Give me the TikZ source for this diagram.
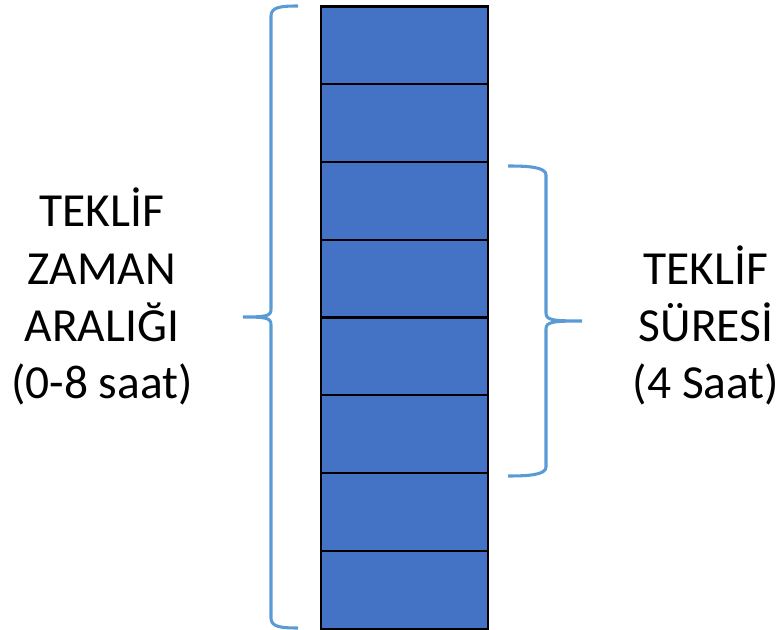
\documentclass[tikz,border=0pt]{standalone}
\usepackage{fontspec}
\setmainfont{Carlito}
\definecolor{boxblue}{HTML}{4472C4}
\definecolor{braceblue}{HTML}{5B9BD5}
\begin{document}
\begin{tikzpicture}[x=0.75pt,y=-0.75pt,
  slot/.style={draw=black,line width=1.6pt,fill=boxblue,minimum width=166.5*0.75pt,minimum height=77.75*0.75pt,inner sep=0pt,anchor=north west},
  bracepath/.style={draw=braceblue,line width=2.3pt},
  label/.style={align=center,font=\fontsize{35.6pt}{43pt}\selectfont,inner sep=0pt}]
\useasboundingbox (0,0) rectangle (782,630);
\foreach \i in {0,...,7}{
  \node[slot] (b\i) at (320,{5.5+77.75*\i}) {};
}
% left brace
\draw[bracepath] (298,6) .. controls (281,6) and (271,7) .. (271,16) -- (271,309)
  .. controls (271,316) and (267,317) .. (243,317)
  .. controls (267,317) and (271,318) .. (271,325) -- (271,618)
  .. controls (271,627) and (281,628) .. (298,628);
% right brace
\draw[bracepath] (508,166) .. controls (528,166) and (546,167) .. (546,175) -- (546,313)
  .. controls (546,320) and (552,321) .. (582,321)
  .. controls (552,321) and (546,322) .. (546,329) -- (546,467)
  .. controls (546,475) and (528,476) .. (508,476);
\node[label,anchor=base] (lt) at (102,399) {TEKLİF\\ZAMAN\\ARALIĞI\\(0-8 saat)};
\node[label,anchor=base] (rt) at (706,399) {TEKLİF\\SÜRESİ\\(4 Saat)};
\end{tikzpicture}
\end{document}
